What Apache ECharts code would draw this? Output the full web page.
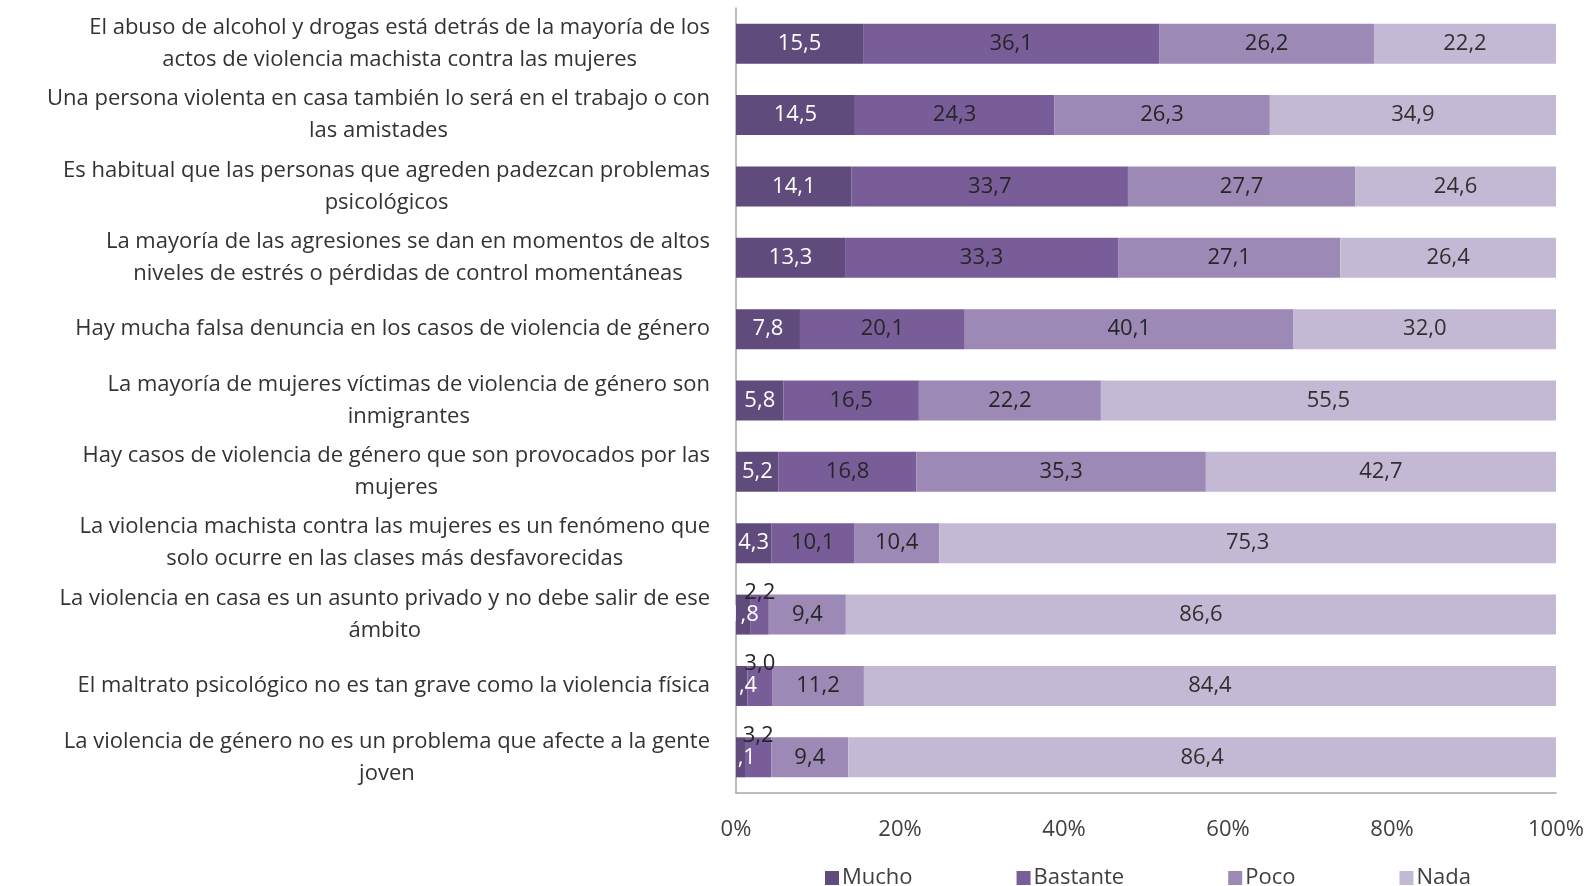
<!DOCTYPE html>
<html><head><meta charset="utf-8">
<script src="https://cdn.jsdelivr.net/npm/echarts@6/dist/echarts.min.js"></script>
<style>html,body{margin:0;padding:0;background:#fff}#c{width:1587px;height:886px}</style>
</head><body><div id="c"></div>
<script>
const categories = [
  "El abuso de alcohol y drogas está detrás de la mayoría de los\nactos de violencia machista contra las mujeres",
  "Una persona violenta en casa también lo será en el trabajo o con\nlas amistades",
  "Es habitual que las personas que agreden padezcan problemas\npsicológicos",
  "La mayoría de las agresiones se dan en momentos de altos\nniveles de estrés o pérdidas de control momentáneas",
  "Hay mucha falsa denuncia en los casos de violencia de género",
  "La mayoría de mujeres víctimas de violencia de género son\ninmigrantes",
  "Hay casos de violencia de género que son provocados por las\nmujeres",
  "La violencia machista contra las mujeres es un fenómeno que\nsolo ocurre en las clases más desfavorecidas",
  "La violencia en casa es un asunto privado y no debe salir de ese\námbito",
  "El maltrato psicológico no es tan grave como la violencia física",
  "La violencia de género no es un problema que afecte a la gente\njoven"
];
const seriesNames = ["Mucho", "Bastante", "Poco", "Nada"];
const mucho    = [15.5, 14.5, 14.1, 13.3, 7.8, 5.8, 5.2, 4.3, 1.8, 1.4, 1.1];
const bastante = [36.1, 24.3, 33.7, 33.3, 20.1, 16.5, 16.8, 10.1, 2.2, 3.0, 3.2];
const poco     = [26.2, 26.3, 27.7, 27.1, 40.1, 22.2, 35.3, 10.4, 9.4, 11.2, 9.4];
const nada     = [22.2, 34.9, 24.6, 26.4, 32.0, 55.5, 42.7, 75.3, 86.6, 84.4, 86.4];
const xTicks = [0, 20, 40, 60, 80, 100];

const colors = ["#604b7d", "#785d99", "#9c89b6", "#c4b9d5"];
const labelColors = ["#ffffff", "#262626", "#262626", "#303030"];
const FONT = "Open Sans";
const FS = 22;
const fmt = v => v.toFixed(1).replace('.', ',');

const allData = [mucho, bastante, poco, nada];
const series = allData.map((arr, si) => ({
  name: seriesNames[si],
  type: 'bar',
  stack: 'total',
  barWidth: 40,
  itemStyle: { color: colors[si] },
  label: {
    show: true,
    position: 'inside',
    color: labelColors[si],
    fontFamily: FONT,
    fontSize: FS,
    formatter: p => fmt(p.value)
  },
  data: arr.map(v => {
    if (si === 1 && v < 4) {
      return { value: v, label: { position: 'top', distance: -9, color: '#262626' } };
    }
    return v;
  })
}));

const chart = echarts.init(document.getElementById('c'));
chart.setOption({
  animation: false,
  textStyle: { fontFamily: FONT },
  grid: { left: 736, right: 31, top: 8, bottom: 93, containLabel: false },
  xAxis: {
    type: 'value', min: 0, max: 100, interval: 20,
    splitLine: { show: false },
    axisLine: { show: true, lineStyle: { color: '#a6a6a6', width: 1.5 } },
    axisTick: { show: false },
    axisLabel: { color: '#404040', fontSize: FS, fontFamily: FONT, margin: 26,
      formatter: v => xTicks.includes(v) ? v + '%' : '' }
  },
  yAxis: {
    type: 'category', data: categories, inverse: true,
    axisLine: { show: true, lineStyle: { color: '#a6a6a6', width: 1.5 } },
    axisTick: { show: false },
    axisLabel: { color: '#333333', fontSize: FS, fontFamily: FONT, margin: 26,
      align: 'right', lineHeight: 32,
      formatter: v => v.split('\n').map(l => '{c|' + l + '}').join('\n'),
      rich: { c: { align: 'center', fontSize: FS, fontFamily: FONT, color: '#333333', lineHeight: 32 } }
    }
  },
  legend: {
    data: seriesNames,
    left: 820, top: 862,
    itemWidth: 14, itemHeight: 14, itemGap: 104,
    icon: 'rect',
    textStyle: { color: '#404040', fontSize: FS, fontFamily: FONT, padding: [0,0,0,-2] }
  },
  series: series
});
</script></body></html>
